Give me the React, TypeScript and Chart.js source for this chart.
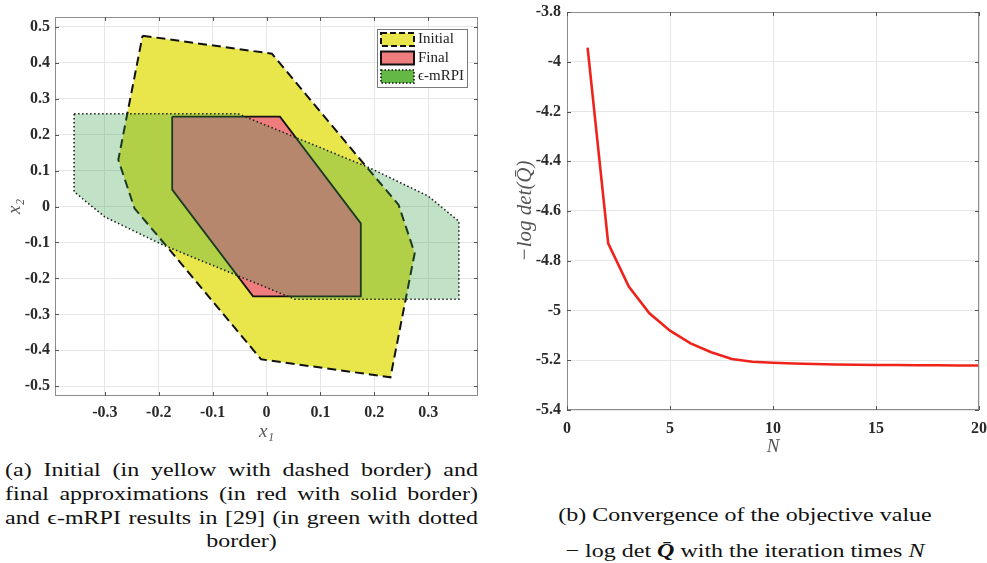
import React, { useEffect, useRef } from 'react';
import { Chart, registerables } from 'chart.js';

Chart.register(...registerables);

// ---------- Figure (a): sets in the (x1, x2) plane ----------
const initialX = [-0.23, 0.01, 0.18, 0.245, 0.275, 0.23, -0.01, -0.18, -0.245, -0.275, -0.23];
const initialY = [0.475, 0.425, 0.12, 0.005, -0.13, -0.475, -0.425, -0.12, -0.005, 0.13, 0.475];
const finalX = [-0.175, 0.025, 0.175, 0.175, -0.025, -0.175, -0.175];
const finalY = [0.25, 0.25, -0.047, -0.25, -0.25, 0.047, 0.25];
const mrpiX = [-0.357, -0.053, 0.192, 0.3, 0.357, 0.357, 0.053, -0.192, -0.3, -0.357, -0.357];
const mrpiY = [0.258, 0.258, 0.107, 0.029, -0.041, -0.258, -0.258, -0.107, -0.029, 0.041, 0.258];
const setLabels = ['Initial', 'Final', 'ϵ-mRPI'];

// ---------- Figure (b): convergence ----------
const iterations = [1, 2, 3, 4, 5, 6, 7, 8, 9, 10, 11, 12, 13, 14, 15, 16, 17, 18, 19, 20];
const objective = [
  -3.943, -4.73, -4.904, -5.011, -5.081, -5.132, -5.168, -5.195, -5.206, -5.21,
  -5.213, -5.215, -5.217, -5.218, -5.219, -5.219, -5.22, -5.22, -5.221, -5.221,
];

const SERIF = '"Liberation Serif", "Times New Roman", "DejaVu Serif", serif';
const TICK_FONT = { family: SERIF, size: 16, weight: 'bold' as const };
const TITLE_FONT = { family: SERIF, size: 19, style: 'italic' as const };

const toPts = (xs: number[], ys: number[]) => xs.map((x, i) => ({ x, y: ys[i] }));
const fmt = (v: number) => String(Math.round(v * 10) / 10);

// MATLAB-like box with inward ticks on all four sides
const boxPlugin = {
  id: 'matlabBox',
  afterDraw(chart: any) {
    const { ctx, chartArea: a, scales } = chart;
    ctx.save();
    ctx.strokeStyle = '#8c8c8c';
    ctx.lineWidth = 1;
    ctx.strokeRect(a.left + 0.5, a.top + 0.5, a.right - a.left - 1, a.bottom - a.top - 1);
    ctx.strokeStyle = '#555';
    const tl = 4;
    ctx.beginPath();
    scales.x.ticks.forEach((t: any) => {
      const p = Math.round(scales.x.getPixelForValue(t.value)) + 0.5;
      ctx.moveTo(p, a.bottom); ctx.lineTo(p, a.bottom - tl);
      ctx.moveTo(p, a.top); ctx.lineTo(p, a.top + tl);
    });
    scales.y.ticks.forEach((t: any) => {
      const p = Math.round(scales.y.getPixelForValue(t.value)) + 0.5;
      ctx.moveTo(a.left, p); ctx.lineTo(a.left + tl, p);
      ctx.moveTo(a.right, p); ctx.lineTo(a.right - tl, p);
    });
    ctx.stroke();
    ctx.restore();
  },
};

const legendPlugin = {
  id: 'setLegend',
  afterDraw(chart: any) {
    const { ctx, chartArea: a } = chart;
    const w = 90, h = 58;
    const x0 = a.right - 11 - w;
    const y0 = a.top + 12;
    ctx.save();
    ctx.fillStyle = '#ffffff';
    ctx.fillRect(x0, y0, w, h);
    ctx.strokeStyle = '#7a7a7a';
    ctx.lineWidth = 1;
    ctx.strokeRect(x0 + 0.5, y0 + 0.5, w, h);
    const rows = [
      { fill: 'rgb(232,230,74)', dash: [6, 3], lw: 2 },
      { fill: 'rgb(240,125,125)', dash: [], lw: 2 },
      { fill: 'rgb(100,185,70)', dash: [1.5, 2], lw: 1.6 },
    ];
    const ys = [y0 + 4, y0 + 22.5, y0 + 41];
    rows.forEach((r, i) => {
      ctx.fillStyle = r.fill;
      ctx.fillRect(x0 + 4, ys[i], 33, 13);
      ctx.setLineDash(r.dash);
      ctx.lineWidth = r.lw;
      ctx.strokeStyle = '#111';
      ctx.strokeRect(x0 + 4, ys[i], 33, 13);
      ctx.setLineDash([]);
      ctx.fillStyle = '#222';
      ctx.font = '15px ' + SERIF;
      ctx.textBaseline = 'middle';
      ctx.textAlign = 'left';
      ctx.fillText(setLabels[i], x0 + 41, ys[i] + 6.5);
    });
    ctx.restore();
  },
};

function fixAxis(size: number, horizontal: boolean) {
  return (scale: any) => {
    if (horizontal) {
      scale.height = size;
      scale.paddingLeft = 0;
      scale.paddingRight = 0;
    } else {
      scale.width = size;
      scale.paddingTop = 0;
      scale.paddingBottom = 0;
    }
  };
}

function SetsChart() {
  const ref = useRef<HTMLCanvasElement>(null);
  useEffect(() => {
    const chart = new Chart(ref.current as HTMLCanvasElement, {
      type: 'line',
      data: {
        datasets: [
          {
            label: setLabels[0],
            data: toPts(initialX, initialY),
            order: 3,
            borderColor: '#111',
            borderWidth: 2,
            borderDash: [9, 5],
            backgroundColor: 'rgb(232,230,74)',
            fill: 'shape',
            pointRadius: 0,
            tension: 0,
          },
          {
            label: setLabels[1],
            data: toPts(finalX, finalY),
            order: 2,
            borderColor: '#111',
            borderWidth: 1.8,
            backgroundColor: 'rgb(240,125,125)',
            fill: 'shape',
            pointRadius: 0,
            tension: 0,
          },
          {
            label: setLabels[2],
            data: toPts(mrpiX, mrpiY),
            order: 1,
            borderColor: '#222',
            borderWidth: 1.6,
            borderDash: [1.5, 2.5],
            backgroundColor: 'rgba(50,160,70,0.3)',
            fill: 'shape',
            pointRadius: 0,
            tension: 0,
          },
        ] as any,
      },
      options: {
        responsive: false,
        animation: false,
        devicePixelRatio: 1,
        layout: { padding: { left: 0, right: 12, top: 17, bottom: 0 } },
        plugins: { legend: { display: false }, tooltip: { enabled: false } },
        scales: {
          x: {
            type: 'linear',
            min: -0.3925,
            max: 0.3925,
            afterFit: fixAxis(49, true),
            ticks: { stepSize: 0.1, includeBounds: false, font: TICK_FONT, color: '#2a2a2a', padding: 7, callback: (v: any) => fmt(v), maxRotation: 0, autoSkip: false },
            grid: { color: '#e6e6e6', drawTicks: false },
            border: { display: false },
            title: { display: true, text: 'x₁', font: TITLE_FONT, color: '#555', padding: { top: 0, bottom: 2 } },
          },
          y: {
            type: 'linear',
            min: -0.527,
            max: 0.527,
            afterFit: fixAxis(55, false),
            ticks: { stepSize: 0.1, includeBounds: false, font: TICK_FONT, color: '#2a2a2a', padding: 5, callback: (v: any) => fmt(v), autoSkip: false },
            grid: { color: '#e6e6e6', drawTicks: false },
            border: { display: false },
            title: { display: true, text: 'x₂', font: TITLE_FONT, color: '#555', padding: { top: 4, bottom: 0 } },
          },
        },
      } as any,
      plugins: [boxPlugin, legendPlugin],
    });
    return () => chart.destroy();
  }, []);
  return <canvas ref={ref} width={490} height={445} style={{ position: 'absolute', left: 0, top: 0, width: 490, height: 445 }} />;
}

function ConvergenceChart() {
  const ref = useRef<HTMLCanvasElement>(null);
  useEffect(() => {
    const chart = new Chart(ref.current as HTMLCanvasElement, {
      type: 'line',
      data: {
        datasets: [
          {
            label: 'objective',
            data: toPts(iterations, objective),
            borderColor: 'rgb(238,36,28)',
            borderWidth: 2.6,
            pointRadius: 0,
            tension: 0,
            fill: false,
          },
        ] as any,
      },
      options: {
        responsive: false,
        animation: false,
        devicePixelRatio: 1,
        layout: { padding: { left: 0, right: 8, top: 12, bottom: 0 } },
        plugins: { legend: { display: false }, tooltip: { enabled: false } },
        scales: {
          x: {
            type: 'linear',
            min: 0,
            max: 20,
            afterFit: fixAxis(50, true),
            ticks: { stepSize: 5, font: TICK_FONT, color: '#2a2a2a', padding: 9, maxRotation: 0, autoSkip: false },
            grid: { color: '#e6e6e6', drawTicks: false },
            border: { display: false },
            title: { display: true, text: 'N', font: TITLE_FONT, color: '#555', padding: { top: 0, bottom: 2 } },
          },
          y: {
            type: 'linear',
            min: -5.4,
            max: -3.8,
            afterFit: fixAxis(67, false),
            ticks: { stepSize: 0.2, font: TICK_FONT, color: '#2a2a2a', padding: 6, callback: (v: any) => fmt(v), autoSkip: false },
            grid: { color: '#e6e6e6', drawTicks: false },
            border: { display: false },
            title: { display: true, text: '−log det(Q̄)', font: { ...TITLE_FONT, size: 21 }, color: '#555', padding: { top: 13, bottom: 0 } },
          },
        },
      } as any,
      plugins: [boxPlugin],
    });
    return () => chart.destroy();
  }, []);
  return <canvas ref={ref} width={487} height={460} style={{ position: 'absolute', left: 500, top: 0, width: 487, height: 460 }} />;
}

// caption text: wide Times-like glyphs, squeezed vertically as in the scanned figure
const capFont: React.CSSProperties = {
  fontFamily: SERIF,
  fontSize: 24,
  lineHeight: '30px',
  color: '#111',
  whiteSpace: 'nowrap',
};
const squeeze: React.CSSProperties = { transform: 'scaleY(0.79)', transformOrigin: '0 0' };

export default function App() {
  const justified: React.CSSProperties = { ...capFont, textAlign: 'justify', textAlignLast: 'justify' };
  return (
    <div style={{ position: 'absolute', left: 0, top: 0, width: 987, height: 563, background: '#fff', overflow: 'hidden' }}>
      <SetsChart />
      <ConvergenceChart />
      <div style={{ position: 'absolute', left: 5, top: 458, width: 473, ...squeeze }}>
        <div style={justified}>(a) Initial (in yellow with dashed border) and</div>
        <div style={justified}>final approximations (in red with solid border)</div>
        <div style={justified}>and ϵ-mRPI results in [29] (in green with dotted</div>
        <div style={{ ...capFont, textAlign: 'center' }}>border)</div>
      </div>
      <div style={{ position: 'absolute', left: 495, top: 503, width: 500, textAlign: 'center', ...capFont, ...squeeze }}>
        (b) Convergence of the objective value
      </div>
      <div style={{ position: 'absolute', left: 495, top: 539, width: 500, textAlign: 'center', ...capFont, ...squeeze }}>
        − log det <b><i>Q̄</i></b> with the iteration times <i>N</i>
      </div>
    </div>
  );
}
